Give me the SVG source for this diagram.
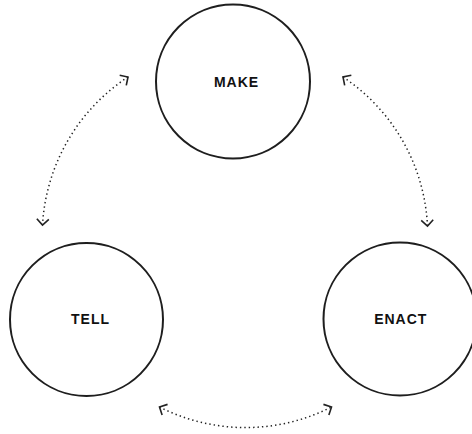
<svg xmlns="http://www.w3.org/2000/svg" width="472" height="434" viewBox="0 0 472 434">
  <style>
    .node circle { fill: #fff; stroke: #1e1e1e; stroke-width: 2; }
    .node text { font-family: "Liberation Sans", Arial, sans-serif; font-weight: bold; font-size: 14px; letter-spacing: 1px; fill: #111; text-anchor: middle; }
    .conn path { fill: none; stroke: #222; stroke-width: 1.5; stroke-dasharray: 1.4 3; stroke-linecap: butt; }
  </style>
  <defs>
    <marker id="chev" viewBox="-9 -9 11 18" markerWidth="11" markerHeight="18" refX="0" refY="0" orient="auto-start-reverse" markerUnits="userSpaceOnUse" overflow="visible">
      <path d="M-6,-6 L0,0 L-6,6" fill="none" stroke="#222" stroke-width="1.6" stroke-dasharray="none"/>
    </marker>
  </defs>
  <rect width="472" height="434" fill="#fff"/>
  <g id="connectors" class="conn">
    <path d="M128,77 A190,190 0 0 0 42.5,225" marker-start="url(#chev)" marker-end="url(#chev)"/>
    <path d="M343,77 A190,190 0 0 1 427.5,226" marker-start="url(#chev)" marker-end="url(#chev)"/>
    <path d="M159.5,407 A190,190 0 0 0 331.5,407" marker-start="url(#chev)" marker-end="url(#chev)"/>
  </g>
  <g id="make" class="node">
    <circle cx="233" cy="81.5" r="77"/>
    <text x="236.5" y="87">MAKE</text>
  </g>
  <g id="tell" class="node">
    <circle cx="86.5" cy="319.5" r="76.5"/>
    <text x="90.5" y="324">TELL</text>
  </g>
  <g id="enact" class="node">
    <circle cx="400" cy="319" r="76.5"/>
    <text x="400.8" y="324">ENACT</text>
  </g>
</svg>
